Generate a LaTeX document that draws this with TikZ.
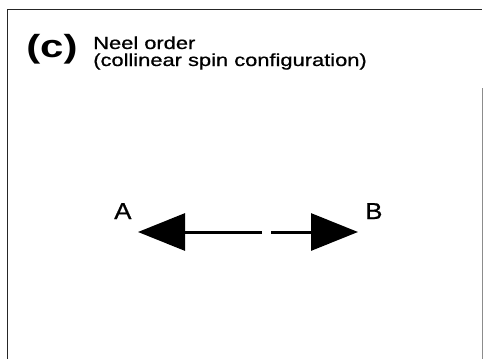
\documentclass[tikz,border=0pt]{standalone}
\usepackage{fontspec}
\setmainfont{Liberation Sans}
\newfontfamily\scanfont{Liberation Sans}[FakeBold=0.7]
\usetikzlibrary{arrows.meta}
\begin{document}
\begin{tikzpicture}[x=1pt,y=1pt,
  txt/.style={inner sep=0pt, anchor=base west, xscale=1.25, transform shape},
  spin/.style={line width=3pt, -{Triangle[length=47pt,width=37pt]}},
  frameline/.style={line width=0.9pt, black!85}]
\useasboundingbox (0,0) rectangle (483,-359);
% frame
\draw[frameline] (7,-359) -- (7,-9) -- (482,-9);
\draw[line width=0.9pt, black!45] (482,-88) -- (482,-359);
% texts
\node[txt, font=\fontsize{32}{32}\selectfont\bfseries, xscale=1.05] (lab) at (26,-57) {(c)};
\node[txt, font=\fontsize{17.5}{17.5}\selectfont\scanfont] (t1) at (93,-49) {Neel order};
\node[txt, font=\fontsize{17.5}{17.5}\selectfont\scanfont] (t2) at (93,-66) {(collinear spin configuration)};
\node[txt, font=\fontsize{23}{23}\selectfont\scanfont, xscale=0.9] (A) at (114,-219) {A};
\node[txt, font=\fontsize{23}{23}\selectfont\scanfont, xscale=0.9] (B) at (365,-219) {B};
% spins
\coordinate (cA) at (262,-232);
\coordinate (tA) at (138,-232);
\coordinate (cB) at (271,-232);
\coordinate (tB) at (358,-232);
\draw[spin] (cA) -- (tA);
\draw[spin] (cB) -- (tB);
\end{tikzpicture}
\end{document}
